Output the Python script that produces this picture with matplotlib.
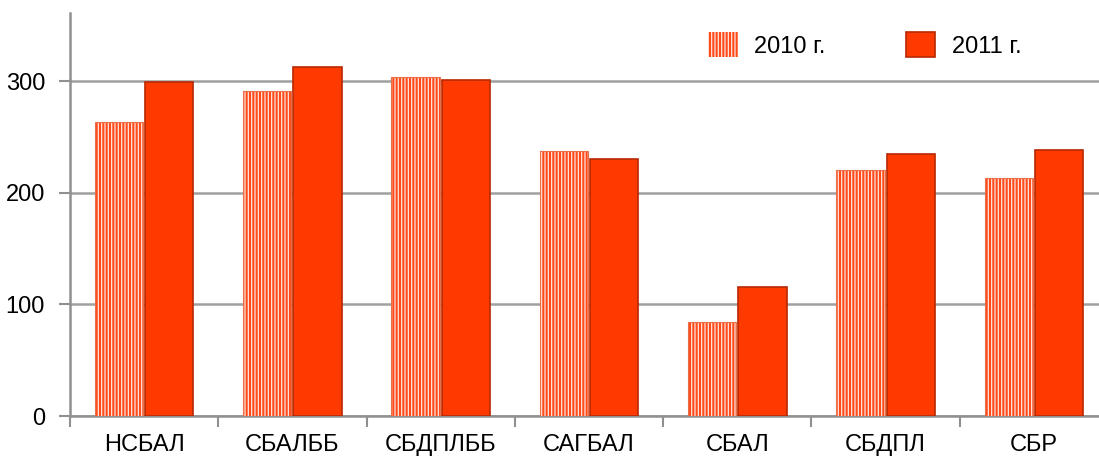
import matplotlib.pyplot as plt
import numpy as np

plt.rcParams['font.family'] = ['Liberation Sans', 'DejaVu Sans']
plt.rcParams['hatch.linewidth'] = 0.9

categories = ["НСБАЛ", "СБАЛББ", "СБДПЛББ", "САГБАЛ", "СБАЛ", "СБДПЛ", "СБР"]
vals_2010 = [263, 291, 304, 237, 84, 220, 213]
vals_2011 = [299, 313, 301, 230, 116, 235, 238]
series_names = ["2010 г.", "2011 г."]

fig = plt.figure(figsize=(10.99, 4.61), dpi=100)
ax = fig.add_axes([70 / 1099, 45 / 461, 1038 / 1099, 403 / 461])

x = np.arange(len(categories))
w = 0.325
gap = 0.007

b1 = ax.bar(x - w / 2 - gap, vals_2010, w, color='#FF4A1A', edgecolor='#FFE6DC',
            hatch='|||||', linewidth=0, zorder=3, label=series_names[0])
ax.bar(x - w / 2 - gap, vals_2010, w, color='none', edgecolor='#E8704A',
       linewidth=0.8, zorder=4)
b2 = ax.bar(x + w / 2 + gap, vals_2011, w, color='#FF3A00', edgecolor='#B82800',
            linewidth=1.2, zorder=3, label=series_names[1])

ax.set_xlim(-0.5, 6.5)
ax.set_ylim(0, 361)
ax.set_yticks([0, 100, 200, 300])
ax.yaxis.grid(True, color='#A0A0A0', linewidth=1.8, zorder=0)
ax.set_axisbelow(True)

ax.set_xticks(x)
ax.set_xticklabels(categories)
ax.set_xticks(np.arange(-0.5, 6.5, 1), minor=True)
ax.tick_params(axis='x', which='major', length=0, pad=13, labelsize=17)
ax.tick_params(axis='x', which='minor', length=8, width=1.5, color='#909090')
ax.tick_params(axis='y', length=8, width=1.5, color='#909090', pad=10, labelsize=17)

for s in ['top', 'right']:
    ax.spines[s].set_visible(False)
for s in ['left', 'bottom']:
    ax.spines[s].set_color('#909090')
    ax.spines[s].set_linewidth(1.8)

ax.legend(handles=[b1, b2], loc='center left', bbox_to_anchor=(0.625, 0.902),
          bbox_transform=fig.transFigure, ncol=2, frameon=False, fontsize=17,
          handlelength=1.25, handleheight=1.25, handletextpad=0.7, columnspacing=3.4)

fig.savefig('out.png', dpi=100)
